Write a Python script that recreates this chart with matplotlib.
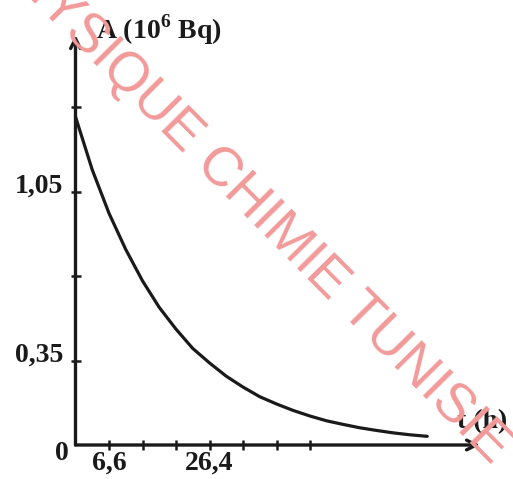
import matplotlib
matplotlib.use("Agg")
import matplotlib.pyplot as plt

plt.rcParams["mathtext.fontset"] = "custom"
plt.rcParams["mathtext.rm"] = "Liberation Serif:bold"
plt.rcParams["mathtext.bf"] = "Liberation Serif:bold"

# Activity of the sample versus time
t_h = [0, 3.3, 6.6, 9.9, 13.2, 16.5, 19.8, 23.1, 26.4, 29.7, 33.0, 36.3,
       39.6, 42.9, 46.2, 49.5, 52.8, 56.1, 59.4, 62.7, 66.0, 69.3]
activity = [1.36, 1.14, 0.96, 0.81, 0.68, 0.57, 0.48, 0.40, 0.34, 0.285, 0.24,
            0.20, 0.17, 0.143, 0.12, 0.10, 0.085, 0.071, 0.06, 0.05, 0.042, 0.036]

x_ticks = [6.6, 13.2, 19.8, 26.4, 33.0, 39.6, 46.2]
x_labels = {6.6: "6,6", 26.4: "26,4"}
y_ticks = [0.35, 0.70, 1.05, 1.40]
y_labels = {0.35: "0,35", 1.05: "1,05"}

W, H = 513, 479
fig = plt.figure(figsize=(W / 100, H / 100), dpi=100)
ax = fig.add_axes([0, 0, 1, 1])
ax.set_axis_off()

# pixel scale: 6.6 h -> 33.5 px, 1 unit of A -> 241.4 px, origin at (75.5, 445)
px_t = 33.5 / 6.6
px_a = 241.4
x0, y0 = 75.5, 445
ax.set_xlim(-x0 / px_t, (W - x0) / px_t)
ax.set_ylim(-(H - y0) / px_a, y0 / px_a)

serif = ["Liberation Serif", "DejaVu Serif"]
ink = "#1a1a1a"
fs = 20

# axes with open arrowheads
t_max = (480 - x0) / px_t
a_max = (y0 - 35) / px_a
ax.annotate("", xy=(t_max, 0), xytext=(0, 0),
            arrowprops=dict(arrowstyle="->,head_length=0.7,head_width=0.35",
                            lw=2.4, color=ink, shrinkA=0, shrinkB=0))
ax.annotate("", xy=(0, a_max), xytext=(0, 0),
            arrowprops=dict(arrowstyle="->,head_length=0.7,head_width=0.35",
                            lw=2.4, color=ink, shrinkA=0, shrinkB=0))

# tick marks crossing the axes
dx = 5 / px_t
dy = 5 / px_a
for xt in x_ticks:
    ax.plot([xt, xt], [-dy, dy], color=ink, lw=1.8, solid_capstyle="butt")
for yt in y_ticks:
    ax.plot([-dx, dx], [yt, yt], color=ink, lw=1.8, solid_capstyle="butt")

for xt, lab in x_labels.items():
    ax.text(xt, -18 / px_a, lab, ha="center", va="center", fontsize=fs,
            fontweight="bold", family=serif, color=ink)
for yt, lab in y_labels.items():
    ax.text(-12 / px_t, yt + 5 / px_a, lab, ha="right", va="center", fontsize=fs,
            fontweight="bold", family=serif, color=ink)
ax.text(-7 / px_t, -8 / px_a, "0", ha="right", va="center", fontsize=fs,
        fontweight="bold", family=serif, color=ink)

ax.text(20 / px_t, (y0 - 30) / px_a, r"A (10$^{6}$ Bq)", ha="left",
        va="center", fontsize=fs, fontweight="bold", family=serif, color=ink)
ax.text((457 - x0) / px_t, (y0 - 422) / px_a, "t (h)", ha="left", va="center",
        fontsize=fs, fontweight="bold", family=serif, color=ink)

# decay curve
ax.plot(t_h, activity, color=ink, lw=2.3, solid_capstyle="round")

# watermark
fig.text(0.482, 0.585, "PHYSIQUE CHIMIE TUNISIE", rotation=-45.3,
         ha="center", va="center", fontsize=39.5, color="#f29a9a",
         family=["Liberation Sans", "DejaVu Sans"])

fig.savefig("out.png", dpi=100)
